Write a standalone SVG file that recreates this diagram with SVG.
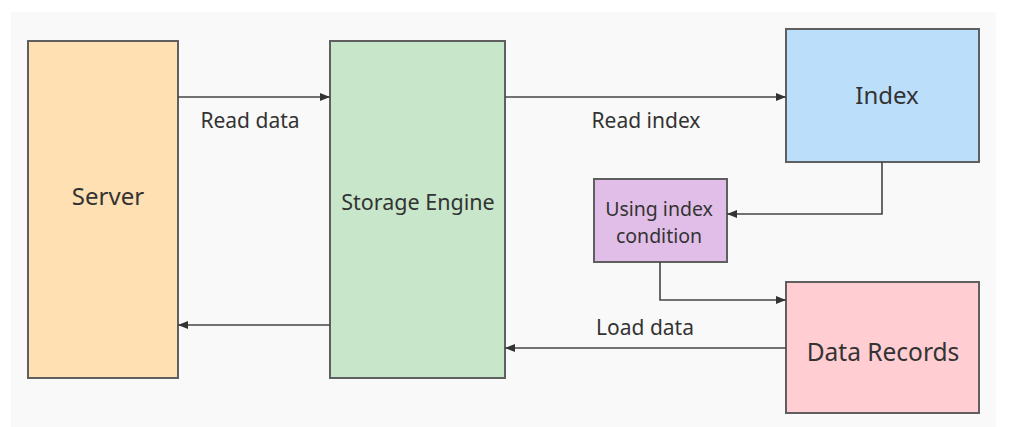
<svg xmlns="http://www.w3.org/2000/svg" width="1031" height="427" viewBox="0 0 1031 427">
<style>
.box{stroke:#5f5f5f;stroke-width:2}
.t{font-family:"Noto Sans","Open Sans",sans-serif;fill:#333;text-anchor:middle}
.lbl{font-size:21px}
.edge{fill:none;stroke:#444;stroke-width:1.6}
</style>
<defs>
<marker id="ah" viewBox="0 0 10 10" refX="10" refY="5" markerWidth="10" markerHeight="10" markerUnits="userSpaceOnUse" orient="auto">
<path d="M0,1 L10,5 L0,9 Z" fill="#333"/>
</marker>
</defs>
<rect width="1031" height="427" fill="#fff"/>
<rect x="11" y="12" width="985" height="415" fill="#f9f9f9"/>
<g id="server">
<rect class="box" x="28" y="41" width="150" height="337" fill="#FFE0B2"/>
<text class="t" x="108" y="205" font-size="24">Server</text>
</g>
<g id="storage-engine">
<rect class="box" x="330" y="41" width="175" height="337" fill="#C8E6C9"/>
<text class="t" x="418" y="210" font-size="21.5">Storage Engine</text>
</g>
<g id="index">
<rect class="box" x="786" y="29" width="193" height="133" fill="#BBDEFB"/>
<text class="t" x="887" y="104" font-size="24">Index</text>
</g>
<g id="using-index-condition">
<rect class="box" x="594" y="179" width="133" height="83" fill="#E1BEE7"/>
<text class="t" x="659" y="216" font-size="19.5">Using index</text>
<text class="t" x="659" y="243" font-size="19.5">condition</text>
</g>
<g id="data-records">
<rect class="box" x="786" y="282" width="193" height="131" fill="#FFCDD2"/>
<text class="t" x="883" y="361" font-size="24.5">Data Records</text>
</g>
<g id="connectors">
<path class="edge" d="M178,97 H330" marker-end="url(#ah)"/>
<path class="edge" d="M330,325 H178" marker-end="url(#ah)"/>
<path class="edge" d="M505,97 H786" marker-end="url(#ah)"/>
<path class="edge" d="M882,162 V214 H727" marker-end="url(#ah)"/>
<path class="edge" d="M660,262 V300 H786" marker-end="url(#ah)"/>
<path class="edge" d="M786,348 H505" marker-end="url(#ah)"/>
<text class="t lbl" x="250" y="128">Read data</text>
<text class="t lbl" x="646" y="128">Read index</text>
<text class="t lbl" x="645" y="335">Load data</text>
</g>
</svg>
